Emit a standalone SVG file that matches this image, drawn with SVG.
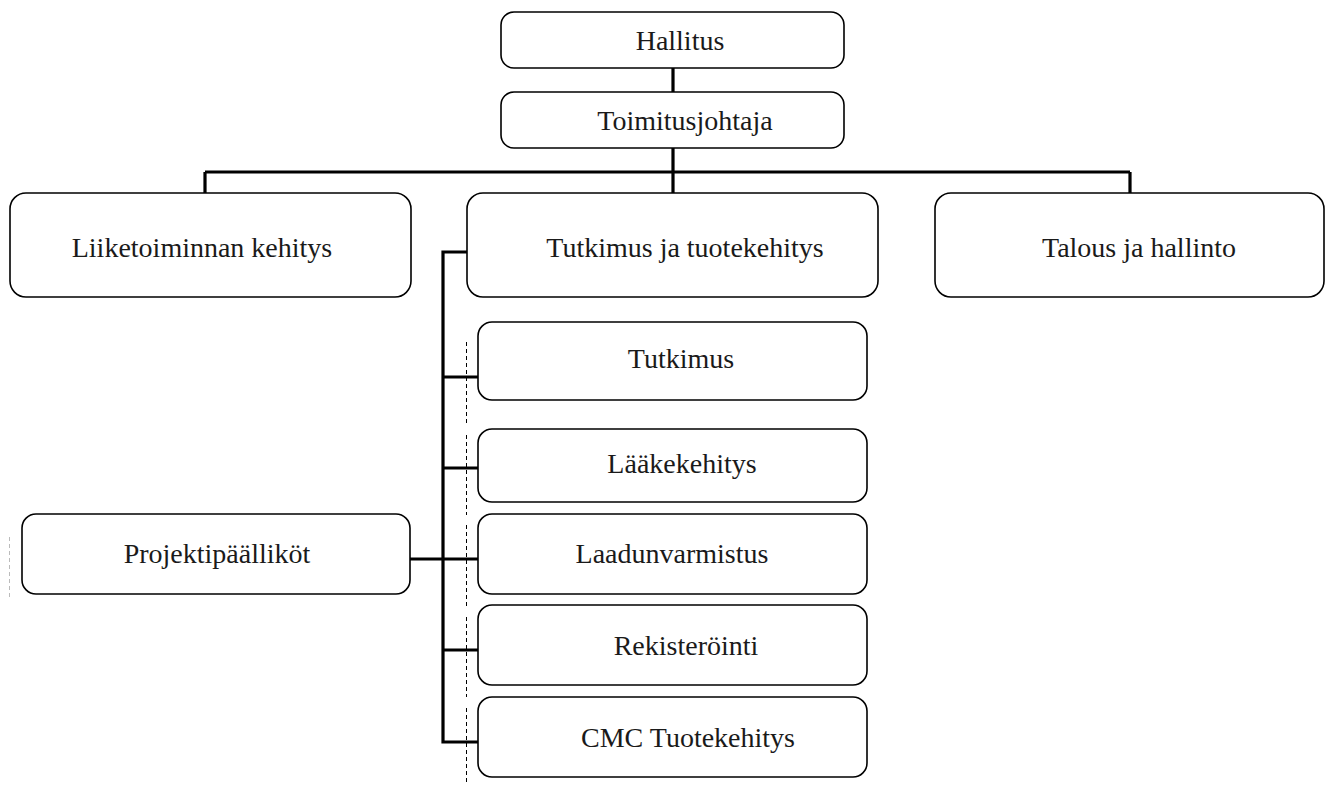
<svg xmlns="http://www.w3.org/2000/svg" width="1330" height="785" viewBox="0 0 1330 785">
<style>
.box{fill:#fff;stroke:#000;stroke-width:1.6}
.lbl{font-family:"Liberation Serif","Times New Roman",serif;font-size:28px;fill:#1a1a1a;text-anchor:middle}
.con{fill:none;stroke:#000;stroke-width:3.2}
.dash{fill:none;stroke:#000;stroke-width:1;stroke-dasharray:4 3}
.gray{fill:none;stroke:#bbb;stroke-width:1;stroke-dasharray:4 3}
</style>
<rect width="1330" height="785" fill="#fff"/>
<g id="connectors">
<path class="con" d="M673 68V92M673 148V193M205 172H1130M205 172V193M1130 172V193"/>
<path class="con" d="M467 252H443V742H478M443 377H478M443 468H478M410 559H478M443 650H478"/>
<path class="dash" d="M466.5 342V423M466.5 435V515M466.5 525V607M466.5 617V697M466.5 708V785"/>
<path class="gray" d="M9.5 537V598"/>
</g>
<g id="hallitus"><rect class="box" x="501" y="12" width="343" height="56" rx="13"/><text class="lbl" x="680" y="50">Hallitus</text></g>
<g id="toimitusjohtaja"><rect class="box" x="501" y="92" width="343" height="56" rx="13"/><text class="lbl" x="685" y="130">Toimitusjohtaja</text></g>
<g id="liiketoiminnan"><rect class="box" x="10" y="193" width="401" height="104" rx="16"/><text class="lbl" x="202" y="257">Liiketoiminnan kehitys</text></g>
<g id="tutkimus-tuotekehitys"><rect class="box" x="467" y="193" width="411" height="104" rx="16"/><text class="lbl" x="685" y="257">Tutkimus ja tuotekehitys</text></g>
<g id="talous"><rect class="box" x="935" y="193" width="389" height="104" rx="16"/><text class="lbl" x="1139" y="257">Talous ja hallinto</text></g>
<g id="tutkimus"><rect class="box" x="478" y="322" width="389" height="78" rx="14"/><text class="lbl" x="681" y="368">Tutkimus</text></g>
<g id="laakekehitys"><rect class="box" x="478" y="429" width="389" height="73" rx="14"/><text class="lbl" x="682" y="473">Lääkekehitys</text></g>
<g id="laadunvarmistus"><rect class="box" x="478" y="514" width="389" height="80" rx="14"/><text class="lbl" x="672" y="563">Laadunvarmistus</text></g>
<g id="rekisterointi"><rect class="box" x="478" y="605" width="389" height="80" rx="14"/><text class="lbl" x="686" y="655">Rekisteröinti</text></g>
<g id="cmc"><rect class="box" x="478" y="697" width="389" height="80" rx="14"/><text class="lbl" x="688" y="747">CMC Tuotekehitys</text></g>
<g id="projektipaallikot"><rect class="box" x="22" y="514" width="388" height="80" rx="14"/><text class="lbl" x="217" y="563">Projektipäälliköt</text></g>
</svg>
